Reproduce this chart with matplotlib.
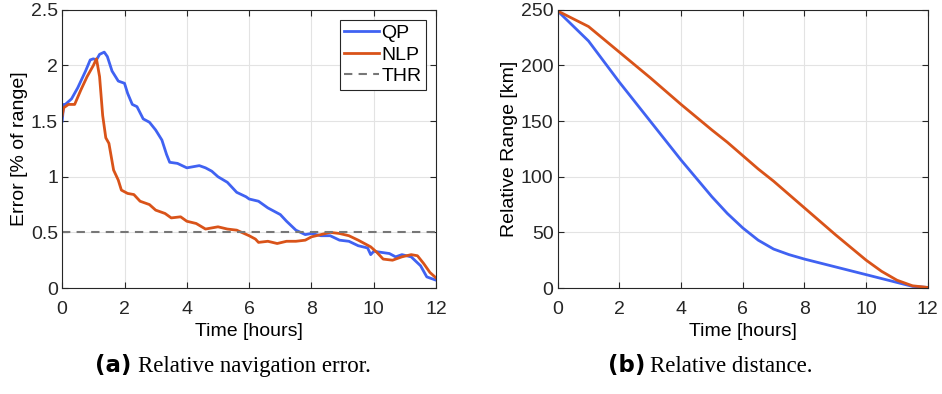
import matplotlib
matplotlib.use('Agg')
import matplotlib.pyplot as plt
from matplotlib.ticker import FuncFormatter

# Relative navigation error (% of range)
t_qp = [0, 0.05, 0.1, 0.3, 0.5, 0.75, 0.9, 1.0, 1.1, 1.2, 1.35, 1.45, 1.6, 1.8, 2.0, 2.1, 2.25,
        2.4, 2.6, 2.8, 3.0, 3.2, 3.35, 3.45, 3.7, 4.0, 4.2, 4.4, 4.6, 4.8, 5.0, 5.3, 5.6, 5.9,
        6.0, 6.3, 6.6, 7.0, 7.2, 7.5, 7.8, 8.0, 8.3, 8.6, 8.9, 9.2, 9.5, 9.8, 9.9, 10.0, 10.5,
        10.7, 10.9, 11.2, 11.5, 11.7, 12.0]
err_qp = [1.5, 1.65, 1.65, 1.7, 1.8, 1.95, 2.05, 2.06, 2.05, 2.1, 2.12, 2.08, 1.95, 1.86, 1.84,
          1.75, 1.65, 1.63, 1.52, 1.49, 1.42, 1.33, 1.2, 1.13, 1.12, 1.08, 1.09, 1.1, 1.08, 1.05,
          1.0, 0.95, 0.86, 0.82, 0.8, 0.78, 0.72, 0.66, 0.6, 0.52, 0.48, 0.49, 0.47, 0.47, 0.43,
          0.42, 0.38, 0.36, 0.3, 0.33, 0.31, 0.28, 0.3, 0.28, 0.2, 0.1, 0.07]
t_nlp = [0, 0.05, 0.2, 0.4, 0.6, 0.8, 1.0, 1.1, 1.2, 1.3, 1.4, 1.5, 1.65, 1.8, 1.9, 2.1, 2.3,
         2.5, 2.8, 3.0, 3.3, 3.5, 3.8, 4.0, 4.3, 4.6, 5.0, 5.3, 5.6, 6.0, 6.2, 6.3, 6.6, 6.9,
         7.2, 7.5, 7.8, 8.0, 8.3, 8.6, 8.9, 9.2, 9.5, 9.9, 10.1, 10.3, 10.6, 10.9, 11.2, 11.4,
         11.6, 11.8, 12.0]
err_nlp = [1.55, 1.62, 1.65, 1.65, 1.78, 1.9, 2.0, 2.06, 1.9, 1.55, 1.35, 1.3, 1.06, 0.97, 0.88,
           0.85, 0.84, 0.78, 0.75, 0.7, 0.67, 0.63, 0.64, 0.6, 0.58, 0.53, 0.55, 0.53, 0.52, 0.47,
           0.44, 0.41, 0.42, 0.4, 0.42, 0.42, 0.43, 0.46, 0.48, 0.5, 0.49, 0.47, 0.43, 0.37, 0.32,
           0.26, 0.25, 0.28, 0.3, 0.29, 0.22, 0.14, 0.09]
threshold = 0.5

# Relative range [km]
t_rng = [0, 1, 2, 3, 4, 5, 5.5, 6, 6.5, 7, 7.5, 8, 9, 10, 10.5, 11, 11.5, 12]
rng_qp = [249, 222, 185, 150, 115, 82, 67, 54, 43, 35, 30, 26, 19, 12, 8.5, 5, 1.5, 0.5]
rng_nlp = [249, 235, 212, 189, 165, 142, 131, 119, 107, 96, 84, 72, 48, 25, 15, 7, 2, 0.5]

blue = '#4062F2'
orange = '#D95319'
plt.rcParams['font.family'] = ['Liberation Sans', 'DejaVu Sans']
plt.rcParams['font.size'] = 14

fig = plt.figure(figsize=(9.42, 3.94), dpi=100)
ax1 = fig.add_axes([0.066, 0.269, 0.397, 0.706])
ax2 = fig.add_axes([0.592, 0.269, 0.393, 0.706])

ax1.plot(t_qp, err_qp, color=blue, lw=2, label='QP')
ax1.plot(t_nlp, err_nlp, color=orange, lw=2, label='NLP')
ax1.axhline(threshold, color='#777777', lw=1.5, ls=(0, (4, 3)), label='THR')
ax1.set_ylim(0, 2.5)
ax1.set_ylabel('Error [% of range]', labelpad=2)
ax1.yaxis.set_major_formatter(FuncFormatter(lambda v, p: f'{v:g}'))
leg = ax1.legend(loc='upper right', fancybox=False, edgecolor='#262626', framealpha=1,
                 handlelength=1.8, handletextpad=0.1, borderpad=0.25, labelspacing=0.2,
                 borderaxespad=0.5, fontsize=14)
leg.get_frame().set_linewidth(0.8)

ax2.plot(t_rng, rng_qp, color=blue, lw=2)
ax2.plot(t_rng, rng_nlp, color=orange, lw=2)
ax2.set_ylim(0, 250)
ax2.set_ylabel('Relative Range [km]', labelpad=2)

for ax in (ax1, ax2):
    ax.set_xlim(0, 12)
    ax.set_xticks(range(0, 13, 2))
    ax.set_xlabel('Time [hours]', labelpad=4)
    ax.grid(True, color='#e3e3e3', lw=0.8)
    ax.set_axisbelow(True)
    ax.tick_params(direction='in', top=True, right=True, length=4, color='#262626',
                   labelcolor='#262626', labelsize=14, pad=3)
    ax.tick_params(axis='x', pad=9)
    for s in ax.spines.values():
        s.set_color('#262626')
        s.set_linewidth(0.8)

fig.text(0.101, 0.055, '(a)', fontsize=16.5, fontweight='bold', family='DejaVu Sans')
fig.text(0.146, 0.055, 'Relative navigation error.', fontsize=16.5, family='Liberation Serif')
fig.text(0.645, 0.055, '(b)', fontsize=16.5, fontweight='bold', family='DejaVu Sans')
fig.text(0.690, 0.055, 'Relative distance.', fontsize=16.5, family='Liberation Serif')

fig.savefig('out.png', dpi=100)
